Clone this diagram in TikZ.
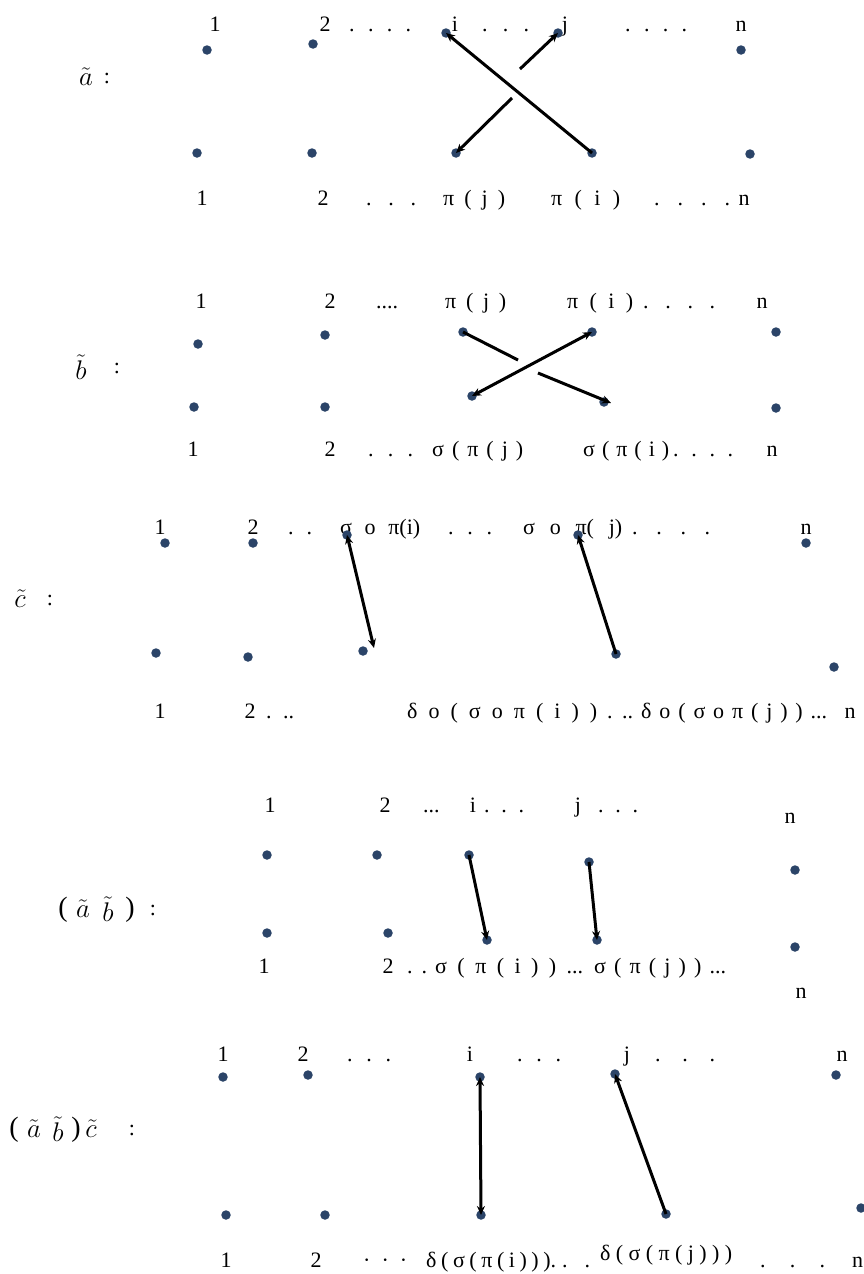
\documentclass[tikz,border=0pt]{standalone}
\usepackage{fontspec}
\setmainfont{Liberation Serif}
\usetikzlibrary{arrows.meta}
\newcommand\lab{\fontsize{22}{26}\selectfont}
\newcommand\sidef{\fontsize{22}{26}\selectfont}
\newcommand\parf{\fontsize{28}{32}\selectfont}
\newcommand\spr[2]{\makebox[#1pt][s]{#2}}
\newcommand\tl[1]{\scalebox{1.3}{$\tilde{#1}$}}
\definecolor{dotblue}{HTML}{2B4468}
\tikzset{
  lab/.style={font=\lab, inner sep=0pt, anchor=base},
  labw/.style={lab, anchor=base west},
  side/.style={font=\sidef, inner sep=0pt},
  par/.style={font=\parf, inner sep=0pt},
  pt/.style={circle, fill=dotblue, inner sep=0pt, minimum size=9.5pt},
  arr/.style={line width=3pt, -{Stealth[length=9pt,width=8pt]}},
  darr/.style={line width=3pt, {Stealth[length=9pt,width=8pt]}-{Stealth[length=9pt,width=8pt]}},
  rarr/.style={line width=3pt, {Stealth[length=9pt,width=8pt]}-},
  seg/.style={line width=3pt},
}
\begin{document}
\begin{tikzpicture}[x=1pt,y=-1pt]
\useasboundingbox[fill=white] (0,0) rectangle (863,1274);

% ---------- panel a ----------
\node[side] (la) at (86,77) {\tl{a}};
\node[side] (lac) at (107,78) {:};
\node[lab] (a11) at (215,31) {1};
\node[lab] (a12) at (325,31) {2};
\node[labw] (a1d) at (349,31) {\spr{62}{. . . .}};
\node[lab] (a1i) at (455,31) {i};
\node[labw] (a1e) at (482,31) {\spr{47}{. . .}};
\node[lab] (a1j) at (565,31) {j};
\node[labw] (a1f) at (625,31) {\spr{62}{. . . .}};
\node[lab] (a1n) at (741,31) {n};
\node[lab] (a21) at (202,205) {1};
\node[lab] (a22) at (323,205) {2};
\node[labw] (a2d) at (366,205) {\spr{50}{. . .}};
\node[labw] (a2pj) at (443,205) {\spr{62}{π ( j )}};
\node[labw] (a2pi) at (551,205) {\spr{69}{π ( i )}};
\node[labw] (a2e) at (654,205) {\spr{76}{. . . .}};
\node[lab] (a2n) at (744,205) {n};
\node[pt] (at1) at (207,50) {};
\node[pt] (at2) at (313,44) {};
\node[pt] (ati) at (446,33) {};
\node[pt] (atj) at (558,33) {};
\node[pt] (atn) at (741,50) {};
\node[pt] (ab1) at (197,153) {};
\node[pt] (ab2) at (312,153) {};
\node[pt] (abj) at (456,153) {};
\node[pt] (abi) at (592,153) {};
\node[pt] (abn) at (750,154) {};
\coordinate (ag1) at (520,69);
\coordinate (ag2) at (512,98);
\draw[arr] (abi.center) -- (ati.center);
\draw[arr] (ag1) -- (atj.center);
\draw[arr] (ag2) -- (abj.center);

% ---------- panel b ----------
\node[side] (lb) at (81,367) {\tl{b}};
\node[side] (lbc) at (117,368) {:};
\node[lab] (b11) at (201,308) {1};
\node[lab] (b12) at (330,308) {2};
\node[labw] (b1d) at (376,308) {\spr{34}{....}};
\node[labw] (b1pj) at (445,308) {\spr{61}{π ( j )}};
\node[labw] (b1pi) at (567,308) {\spr{66}{π ( i )}};
\node[labw] (b1e) at (643,308) {\spr{72}{. . . .}};
\node[lab] (b1n) at (762,308) {n};
\node[lab] (b21) at (193,456) {1};
\node[lab] (b22) at (330,456) {2};
\node[labw] (b2d) at (368,456) {\spr{45}{. . .}};
\node[labw] (b2pj) at (432,456) {\spr{91}{σ ( π ( j )}};
\node[labw] (b2pi) at (583,456) {\spr{86}{σ ( π ( i )}};
\node[labw] (b2e) at (673,456) {\spr{60}{. . . .}};
\node[lab] (b2n) at (772,456) {n};
\node[pt] (bt1) at (198,344) {};
\node[pt] (bt2) at (325,335) {};
\node[pt] (btj) at (463,332) {};
\node[pt] (bti) at (592,332) {};
\node[pt] (btn) at (776,332) {};
\node[pt] (bb1) at (194,407) {};
\node[pt] (bb2) at (325,407) {};
\node[pt] (bbj) at (472,396) {};
\node[pt] (bbi) at (604,402) {};
\node[pt] (bbn) at (776,408) {};
\coordinate (bg1) at (518,360);
\coordinate (bg2) at (538,373);
\coordinate (bgt) at (611,403);
\draw[seg] (btj.center) -- (bg1);
\draw[arr] (bg2) -- (bgt);
\draw[darr] (bbj.center) -- (bti.center);

% ---------- panel c ----------
\node[side] (lc) at (20,599) {\tl{c}};
\node[side] (lcc) at (50,600) {:};
\node[lab] (c11) at (160,534) {1};
\node[lab] (c12) at (253,534) {2};
\node[labw] (c1d) at (288,534) {\spr{24}{. .}};
\node[labw] (c1i) at (340,534) {\spr{80}{σ o π(i)}};
\node[labw] (c1e) at (448,534) {\spr{44}{. . .}};
\node[labw] (c1j) at (523,534) {\spr{99}{σ o π( j)}};
\node[labw] (c1f) at (632,534) {\spr{78}{. . . .}};
\node[lab] (c1n) at (806,534) {n};
\node[lab] (c21) at (160,718) {1};
\node[lab] (c22) at (250,718) {2};
\node[labw] (c2d) at (266,718) {\spr{28}{. ..}};
\node[labw] (c2i) at (407,718) {\spr{190}{δ o ( σ o π ( i ) )}};
\node[labw] (c2e) at (607,718) {\spr{26}{. ..}};
\node[labw] (c2j) at (641,718) {\spr{186}{δ o ( σ o π ( j ) ) ...}};
\node[lab] (c2n) at (850,718) {n};
\node[pt] (ct1) at (165,543) {};
\node[pt] (ct2) at (253,543) {};
\node[pt] (cti) at (347,535) {};
\node[pt] (ctj) at (578,535) {};
\node[pt] (ctn) at (806,543) {};
\node[pt] (cb1) at (156,653) {};
\node[pt] (cb2) at (248,657) {};
\node[pt] (cbi) at (363,651) {};
\node[pt] (cbj) at (616,654) {};
\node[pt] (cbn) at (834,667) {};
\coordinate (cbe) at (374,648);
\draw[darr] (cti.center) -- (cbe);
\draw[rarr] (ctj.center) -- (cbj.center);

% ---------- panel ab ----------
\node[par] (ldp1) at (63,910) {(};
\node[side] (lda) at (83,909) {\tl{a}};
\node[side] (ldb) at (108,909) {\tl{b}};
\node[par] (ldp2) at (130,910) {)};
\node[side] (ldc) at (153,910) {:};
\node[lab] (d11) at (270,812) {1};
\node[lab] (d12) at (385,812) {2};
\node[labw] (d1d) at (423,812) {\spr{34}{...}};
\node[lab] (d1i) at (473,812) {i};
\node[labw] (d1e) at (484,812) {\spr{40}{. . .}};
\node[lab] (d1j) at (578,812) {j};
\node[labw] (d1f) at (598,812) {\spr{40}{. . .}};
\node[lab] (d1n) at (790,823) {n};
\node[lab] (d21) at (264,973) {1};
\node[lab] (d22) at (388,973) {2};
\node[labw] (d2d) at (407,973) {\spr{20}{. .}};
\node[labw] (d2i) at (435,973) {\spr{148}{σ ( π ( i ) ) ...}};
\node[labw] (d2j) at (594,973) {\spr{132}{σ ( π ( j ) ) ...}};
\node[lab] (d2n) at (801,998) {n};
\node[pt] (dt1) at (267,855) {};
\node[pt] (dt2) at (377,855) {};
\node[pt] (dti) at (469,855) {};
\node[pt] (dtj) at (589,862) {};
\node[pt] (dtn) at (795,870) {};
\node[pt] (db1) at (267,933) {};
\node[pt] (db2) at (388,933) {};
\node[pt] (dbi) at (487,940) {};
\node[pt] (dbj) at (597,940) {};
\node[pt] (dbn) at (795,947) {};
\draw[arr] (dti.center) -- (dbi.center);
\draw[arr] (dtj.center) -- (dbj.center);

% ---------- panel abc ----------
\node[par] (lep1) at (14,1130) {(};
\node[side] (lea) at (34,1129) {\tl{a}};
\node[side] (leb) at (58,1129) {\tl{b}};
\node[par] (lep2) at (76,1130) {)};
\node[side] (lec) at (91,1129) {\tl{c}};
\node[side] (lecc) at (132,1130) {:};
\node[lab] (e11) at (223,1061) {1};
\node[lab] (e12) at (303,1061) {2};
\node[labw] (e1d) at (347,1061) {\spr{44}{. . .}};
\node[lab] (e1i) at (470,1061) {i};
\node[labw] (e1e) at (517,1061) {\spr{44}{. . .}};
\node[lab] (e1j) at (627,1061) {j};
\node[labw] (e1f) at (655,1061) {\spr{60}{. . .}};
\node[lab] (e1n) at (842,1061) {n};
\node[lab] (e21) at (226,1267) {1};
\node[lab] (e22) at (316,1267) {2};
\node[labw] (e2d) at (363,1267) {\spr{44}{· · ·}};
\node[labw] (e2i) at (426,1267) {\spr{130}{δ ( σ ( π ( i ) ) ).}};
\node[labw] (e2e) at (562,1267) {\spr{28}{. .}};
\node[labw] (e2j) at (600,1260) {\spr{132}{δ ( σ ( π ( j ) ) )}};
\node[labw] (e2f) at (760,1267) {\spr{65}{. . .}};
\node[labw] (e2n) at (852,1267) {n};
\node[pt] (et1) at (223,1077) {};
\node[pt] (et2) at (308,1075) {};
\node[pt] (eti) at (480,1077) {};
\node[pt] (etj) at (615,1074) {};
\node[pt] (etn) at (836,1075) {};
\node[pt] (eb1) at (226,1215) {};
\node[pt] (eb2) at (325,1215) {};
\node[pt] (ebi) at (481,1215) {};
\node[pt] (ebj) at (666,1214) {};
\node[pt] (ebn) at (861,1208) {};
\draw[darr] (eti.center) -- (ebi.center);
\draw[rarr] (etj.center) -- (ebj.center);
\end{tikzpicture}
\end{document}
